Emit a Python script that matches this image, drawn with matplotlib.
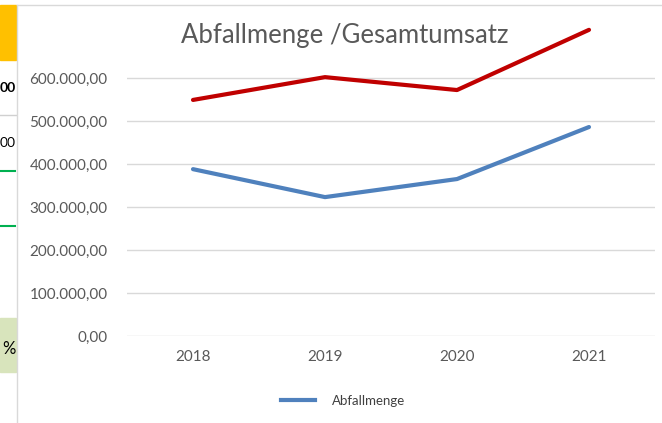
import matplotlib.pyplot as plt
from matplotlib.patches import Rectangle
from matplotlib.lines import Line2D
from matplotlib.ticker import FuncFormatter

years = ["2018", "2019", "2020", "2021"]
abfallmenge = [388000, 323000, 365000, 486000]
gesamtumsatz = [549000, 602000, 572000, 712000]
yticks = [0, 100000, 200000, 300000, 400000, 500000, 600000]

plt.rcParams['font.family'] = ['Lato', 'DejaVu Sans']

W, H = 662, 423
fig = plt.figure(figsize=(W / 100, H / 100), dpi=100)

def fx(px):
    return px / W

def fy(py):
    return 1 - py / H

# bits of the spreadsheet visible on the left
fig.patches.append(Rectangle((0, fy(60)), fx(16), fy(5) - fy(60), transform=fig.transFigure, color="#ffc000", zorder=0))
fig.patches.append(Rectangle((0, fy(372)), fx(16), fy(318) - fy(372), transform=fig.transFigure, color="#d8e4bc", zorder=0))
fig.lines.append(Line2D([0, fx(16)], [fy(115), fy(115)], transform=fig.transFigure, color="#d0d0d0", lw=1))
fig.lines.append(Line2D([0, fx(15)], [fy(171), fy(171)], transform=fig.transFigure, color="#00b050", lw=1.5))
fig.lines.append(Line2D([0, fx(15)], [fy(226), fy(226)], transform=fig.transFigure, color="#00b050", lw=1.5))
fig.text(fx(16), fy(88), "00", ha="right", va="center", fontsize=10, fontweight="bold", color="black")
fig.text(fx(16), fy(143), "00", ha="right", va="center", fontsize=10, color="black")
fig.text(fx(16), fy(349), "%", ha="right", va="center", fontsize=12, color="black")

# chart border
fig.lines.append(Line2D([fx(17), 1], [fy(5), fy(5)], transform=fig.transFigure, color="#d9d9d9", lw=1))
fig.lines.append(Line2D([fx(17), fx(17)], [fy(5), 0], transform=fig.transFigure, color="#d9d9d9", lw=1))

ymax = 720000
top_px = 336 - ymax / 100000 * 43
ax = fig.add_axes([fx(127), fy(336), fx(655) - fx(127), fy(top_px) - fy(336)])

x = list(range(len(years)))
ax.plot(x, abfallmenge, color="#4f81bd", lw=3, solid_capstyle="round", label="Abfallmenge", clip_on=False)
ax.plot(x, gesamtumsatz, color="#c00000", lw=3, solid_capstyle="round", clip_on=False)

ax.set_xlim(-0.5, 3.5)
ax.set_ylim(0, ymax)
ax.set_xticks(x)
ax.set_xticklabels(years)
ax.set_yticks(yticks)
ax.yaxis.set_major_formatter(FuncFormatter(lambda v, p: f"{v:,.2f}".replace(",", "X").replace(".", ",").replace("X", ".")))
ax.grid(axis="y", color="#d9d9d9", lw=1)
ax.set_axisbelow(True)
for s in ax.spines.values():
    s.set_visible(False)
ax.tick_params(length=0, colors="#595959", labelsize=11)
ax.tick_params(axis="y", pad=14)
ax.tick_params(axis="x", pad=10)

fig.text(fx(345), fy(36), "Abfallmenge /Gesamtumsatz", ha="center", va="center", fontsize=18.5, color="#595959")

leg = fig.legend(handles=[Line2D([], [], color="#4f81bd", lw=3)], labels=["Abfallmenge"],
                 loc="center", bbox_to_anchor=(fx(343), fy(401)), frameon=False,
                 fontsize=9.5, handlelength=2.6, handletextpad=1.3)
for t in leg.get_texts():
    t.set_color("#404040")

fig.savefig("out.png", dpi=100)
